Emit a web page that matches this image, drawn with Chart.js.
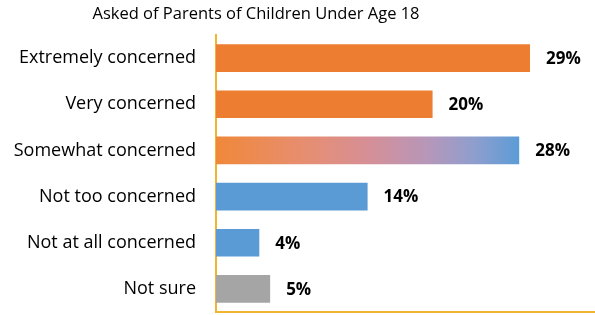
<!DOCTYPE html>
<html>
<head>
<meta charset="utf-8">
<script src="https://cdn.jsdelivr.net/npm/chart.js@4/dist/chart.umd.min.js"></script>
<style>
  html, body { margin: 0; padding: 0; background: #fff; }
  #wrap { width: 595px; height: 315px; position: relative; }
</style>
</head>
<body>
<div id="wrap"><canvas id="myChart"></canvas></div>
<script>
const titleText = 'Asked of Parents of Children Under Age 18';
const categories = ['Extremely concerned', 'Very concerned', 'Somewhat concerned', 'Not too concerned', 'Not at all concerned', 'Not sure'];
const values = [29, 20, 28, 14, 4, 5];
const xMax = 35;

const ORANGE = '#ED7D31';
const BLUE = '#5B9BD5';
const GREY = '#A5A5A5';
const GOLD = '#F2B530';

// bar fill: orange, orange, orange->blue blend, blue, blue, grey
function barFill(ctx) {
  const i = ctx.dataIndex;
  if (i < 2) return ORANGE;
  if (i === 3 || i === 4) return BLUE;
  if (i === 5) return GREY;
  const chart = ctx.chart;
  if (!chart.chartArea) return ORANGE;
  const xs = chart.scales.x;
  const x0 = xs.getPixelForValue(0);
  const x1 = xs.getPixelForValue(values[i]);
  const g = chart.ctx.createLinearGradient(x0, 0, x1, 0);
  g.addColorStop(0, '#F0883A');
  g.addColorStop(0.3, '#E68E72');
  g.addColorStop(0.5, '#D68F96');
  g.addColorStop(0.7, '#B697BA');
  g.addColorStop(0.85, '#8F9ECD');
  g.addColorStop(1, '#5C9CD7');
  return g;
}

const valueLabels = {
  id: 'valueLabels',
  afterDatasetsDraw(chart) {
    const c = chart.ctx;
    const meta = chart.getDatasetMeta(0);
    c.save();
    c.font = 'bold 17px "Open Sans"';
    c.fillStyle = '#000';
    c.textBaseline = 'middle';
    meta.data.forEach((bar, i) => {
      c.fillText(values[i] + '%', bar.x + 16, bar.y + 1);
    });
    c.restore();
  }
};

const sideTitle = {
  id: 'sideTitle',
  afterDraw(chart) {
    const c = chart.ctx;
    c.save();
    c.font = '16.5px "Open Sans"';
    c.fillStyle = '#000';
    c.textAlign = 'center';
    c.textBaseline = 'middle';
    c.fillText(titleText, 256, 14);
    c.restore();
  }
};

const ctx = document.getElementById('myChart');
new Chart(ctx, {
  type: 'bar',
  data: {
    labels: categories,
    datasets: [{
      data: values,
      backgroundColor: barFill,
      borderWidth: 0,
      categoryPercentage: 1,
      barPercentage: 0.6
    }]
  },
  options: {
    indexAxis: 'y',
    responsive: true,
    maintainAspectRatio: false,
    animation: false,
    layout: { padding: { top: 35, bottom: 0, right: 0, left: 0 } },
    plugins: {
      legend: { display: false },
      tooltip: { enabled: false },
      title: { display: false }
    },
    scales: {
      x: {
        min: 0,
        max: xMax,
        grid: { display: false, drawTicks: false },
        ticks: { display: false },
        border: { display: true, color: GOLD, width: 2 },
        afterFit(scale) {
          scale.height = 3;
          scale.paddingLeft = 0;
          scale.paddingRight = 0;
        }
      },
      y: {
        grid: { display: false, drawTicks: false },
        border: { display: true, color: GOLD, width: 2 },
        ticks: {
          color: '#000',
          padding: 20,
          font: { family: '"Open Sans"', size: 18 }
        },
        afterFit(scale) {
          scale.width = 216;
          scale.paddingTop = 0;
          scale.paddingBottom = 0;
        }
      }
    }
  },
  plugins: [valueLabels, sideTitle]
});
</script>
</body>
</html>
